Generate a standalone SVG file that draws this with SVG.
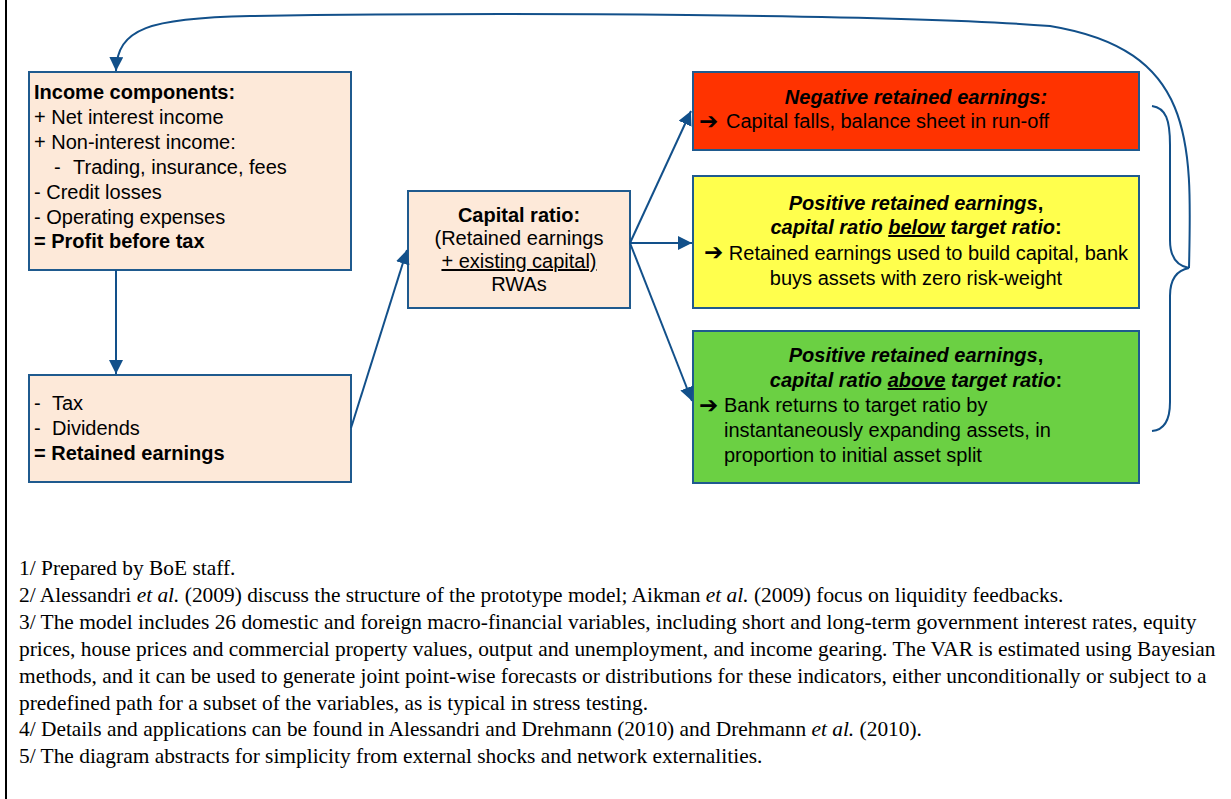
<svg xmlns="http://www.w3.org/2000/svg" width="1231" height="799" viewBox="0 0 1231 799">
<defs>
<marker id="ah" markerUnits="userSpaceOnUse" markerWidth="15" markerHeight="15" refX="14" refY="7" orient="auto">
<path d="M0,0 L14,7 L0,14 z" fill="#12508A"/>
</marker>
<style>
.box{stroke:#1F5A8E;stroke-width:2}
.peach{fill:#FDE9D9}
.t{font-family:"Liberation Sans",Arial,sans-serif;font-size:20px;fill:#000}
.b{font-weight:bold}
.bi{font-weight:bold;font-style:italic}
.c{text-anchor:middle}
.ar{font-family:"DejaVu Sans",sans-serif;font-weight:bold;font-size:23px}
.fn{font-family:"Liberation Serif","Times New Roman",serif;font-size:21.4px;fill:#000}
.conn{fill:none;stroke:#12508A;stroke-width:2}
</style>
</defs>
<rect width="1231" height="799" fill="#fff"/>
<line x1="6" y1="0" x2="6" y2="799" stroke="#000" stroke-width="2"/>

<g id="income">
<rect class="box peach" x="29" y="72" width="322" height="198"/>
<text class="t"><tspan class="b" x="34" y="99">Income components:</tspan><tspan x="34" y="124">+ Net interest income</tspan><tspan x="34" y="149">+ Non-interest income:</tspan><tspan x="54" y="174">-</tspan><tspan x="73" y="174">Trading, insurance, fees</tspan><tspan x="34" y="199">- Credit losses</tspan><tspan x="34" y="224">- Operating expenses</tspan><tspan class="b" x="34" y="248">= Profit before tax</tspan></text>
</g>

<g id="retained">
<rect class="box peach" x="29" y="375" width="322" height="107"/>
<text class="t"><tspan x="34" y="410">-</tspan><tspan x="52" y="410">Tax</tspan><tspan x="34" y="435">-</tspan><tspan x="52" y="435">Dividends</tspan><tspan class="b" x="34" y="460">= Retained earnings</tspan></text>
</g>

<g id="capital">
<rect class="box peach" x="408" y="191" width="222" height="117"/>
<text class="t c"><tspan class="b" x="519" y="222">Capital ratio:</tspan><tspan x="519" y="245">(Retained earnings</tspan><tspan x="519" y="268" text-decoration="underline">+ existing capital)</tspan><tspan x="519" y="291">RWAs</tspan></text>
</g>

<g id="negative">
<rect class="box" fill="#FF3300" x="693" y="72" width="446" height="78"/>
<text class="t"><tspan class="bi c" x="916" y="104">Negative retained earnings:</tspan><tspan class="ar" x="699" y="129">➔</tspan><tspan x="726" y="128">Capital falls, balance sheet in run-off</tspan></text>
</g>

<g id="below">
<rect class="box" fill="#FFFF4D" x="693" y="176" width="446" height="132"/>
<text class="t c"><tspan class="bi" x="916" y="210">Positive retained earnings<tspan font-style="normal">,</tspan></tspan><tspan x="916" y="234"><tspan class="bi">capital ratio </tspan><tspan class="bi" text-decoration="underline">below</tspan><tspan class="bi"> target ratio</tspan><tspan class="b">:</tspan></tspan><tspan x="916" y="260"><tspan class="ar">➔</tspan> Retained earnings used to build capital, bank</tspan><tspan x="916" y="285">buys assets with zero risk-weight</tspan></text>
</g>

<g id="above">
<rect class="box" fill="#6BD043" x="693" y="331" width="446" height="152"/>
<text class="t"><tspan class="bi c" x="916" y="362">Positive retained earnings<tspan font-style="normal">,</tspan></tspan><tspan class="c" x="916" y="387"><tspan class="bi">capital ratio </tspan><tspan class="bi" text-decoration="underline">above</tspan><tspan class="bi"> target ratio</tspan><tspan class="b">:</tspan></tspan><tspan class="ar" x="699" y="413">➔</tspan><tspan x="724" y="412">Bank returns to target ratio by</tspan><tspan x="724" y="437">instantaneously expanding assets, in</tspan><tspan x="724" y="462">proportion to initial asset split</tspan></text>
</g>

<g id="connectors">
<line class="conn" x1="116" y1="270" x2="116" y2="374" marker-end="url(#ah)"/>
<line class="conn" x1="351" y1="428" x2="407" y2="250" marker-end="url(#ah)"/>
<line class="conn" x1="630" y1="243" x2="691" y2="111" marker-end="url(#ah)"/>
<line class="conn" x1="630" y1="243" x2="692" y2="243" marker-end="url(#ah)"/>
<line class="conn" x1="630" y1="243" x2="692" y2="401" marker-end="url(#ah)"/>
<path class="conn" d="M1152,106 C1166,108 1170,120 1170,145 L1170,240 C1170,258 1178,266 1189,268 C1178,270 1170,278 1170,296 L1170,402 C1170,420 1164,430 1152,431"/>
<path class="conn" d="M1189,268 C1192,140 1195,50 1050,26 C900,14 500,12 250,16 C150,18 117,28 116,71" marker-end="url(#ah)"/>
</g>

<g id="footnotes">
<text class="fn" x="19" y="575">1/ Prepared by BoE staff.</text>
<text class="fn" x="19" y="602">2/ Alessandri <tspan font-style="italic">et al.</tspan> (2009) discuss the structure of the prototype model; Aikman <tspan font-style="italic">et al.</tspan> (2009) focus on liquidity feedbacks.</text>
<text class="fn" x="19" y="629">3/ The model includes 26 domestic and foreign macro-financial variables, including short and long-term government interest rates, equity</text>
<text class="fn" x="19" y="656">prices, house prices and commercial property values, output and unemployment, and income gearing. The VAR is estimated using Bayesian</text>
<text class="fn" x="19" y="683">methods, and it can be used to generate joint point-wise forecasts or distributions for these indicators, either unconditionally or subject to a</text>
<text class="fn" x="19" y="710">predefined path for a subset of the variables, as is typical in stress testing.</text>
<text class="fn" x="19" y="736">4/ Details and applications can be found in Alessandri and Drehmann (2010) and Drehmann <tspan font-style="italic">et al.</tspan> (2010).</text>
<text class="fn" x="19" y="763">5/ The diagram abstracts for simplicity from external shocks and network externalities.</text>
</g>
</svg>
